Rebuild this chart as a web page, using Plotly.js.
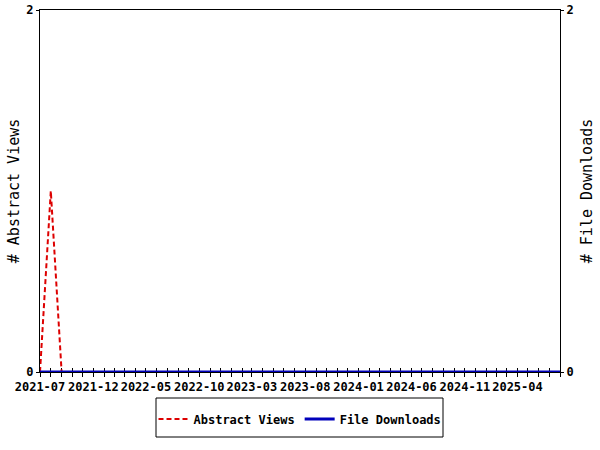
<!DOCTYPE html>
<html>
<head>
<meta charset="utf-8">
<script src="https://cdn.plot.ly/plotly-3.0.1.min.js"></script>
<style>html,body{margin:0;padding:0;background:#fff;}#chart{width:600px;height:450px;}</style>
</head>
<body>
<div id="chart"></div>
<script>
// Monthly categories 2021-07 .. 2025-08
const months = [
 "2021-07","2021-08","2021-09","2021-10","2021-11","2021-12",
 "2022-01","2022-02","2022-03","2022-04","2022-05","2022-06","2022-07","2022-08","2022-09","2022-10","2022-11","2022-12",
 "2023-01","2023-02","2023-03","2023-04","2023-05","2023-06","2023-07","2023-08","2023-09","2023-10","2023-11","2023-12",
 "2024-01","2024-02","2024-03","2024-04","2024-05","2024-06","2024-07","2024-08","2024-09","2024-10","2024-11","2024-12",
 "2025-01","2025-02","2025-03","2025-04","2025-05","2025-06","2025-07","2025-08"
];
const abstractViews = [0,1,0,0,0,0, 0,0,0,0,0,0,0,0,0,0,0,0, 0,0,0,0,0,0,0,0,0,0,0,0, 0,0,0,0,0,0,0,0,0,0,0,0, 0,0,0,0,0,0,0,0];
const fileDownloads = [0,0,0,0,0,0, 0,0,0,0,0,0,0,0,0,0,0,0, 0,0,0,0,0,0,0,0,0,0,0,0, 0,0,0,0,0,0,0,0,0,0,0,0, 0,0,0,0,0,0,0,0];
const tickLabels = ["2021-07","2021-12","2022-05","2022-10","2023-03","2023-08","2024-01","2024-06","2024-11","2025-04"];

const xs = months.map(m => m + "-01");
const tickVals = tickLabels.map(m => m + "-01");
const mono = "DejaVu Sans Mono, monospace";

const traces = [
  {x: xs, y: abstractViews, name: "Abstract Views", type: "scatter", mode: "lines",
   line: {color: "#dd0000", width: 2, dash: "5px,3px"}, xaxis: "x", yaxis: "y"},
  {x: xs, y: fileDownloads, name: "File Downloads", type: "scatter", mode: "lines",
   line: {color: "#0000bb", width: 3}, xaxis: "x", yaxis: "y2"}
];

const layout = {
  width: 600, height: 450,
  margin: {l: 40, r: 40, t: 10, b: 78},
  paper_bgcolor: "#fff", plot_bgcolor: "#fff",
  font: {family: mono, color: "#000", size: 12},
  showlegend: true,
  legend: {orientation: "h", x: 0.5, xanchor: "center", y: -0.09, yanchor: "top",
    borderwidth: 0, bgcolor: "rgba(0,0,0,0)", font: {family: mono, size: 12, weight: "bold"},
    itemwidth: 30},
  shapes: [{type: "rect", xref: "paper", yref: "paper",
    x0: 116/520, x1: 403/520, y0: -65/362, y1: -26/362,
    line: {color: "#000", width: 1}, fillcolor: "rgba(0,0,0,0)"}],
  xaxis: {
    type: "date", range: [xs[0], xs[xs.length - 1]],
    tickvals: tickVals, ticktext: tickLabels,
    ticks: "outside", ticklen: 4, tickcolor: "#000",
    minor: {dtick: "M1", tick0: xs[0], ticks: "outside", ticklen: 4, tickcolor: "#000"},
    showgrid: false, zeroline: false, showline: true, linecolor: "#000", linewidth: 1,
    mirror: true, layer: "below traces",
    tickfont: {family: mono, size: 12, weight: "bold"}
  },
  xaxis2: {
    type: "date", overlaying: "x", matches: "x", range: [xs[0], xs[xs.length - 1]],
    tickvals: tickVals, ticktext: tickLabels.map(() => ""),
    ticks: "inside", ticklen: 4, tickcolor: "#000", showticklabels: false,
    minor: {dtick: "M1", tick0: xs[0], ticks: "inside", ticklen: 4, tickcolor: "#000"},
    showgrid: false, zeroline: false, showline: false, side: "bottom", anchor: "y",
    layer: "below traces"
  },
  yaxis: {
    range: [0, 2], tickvals: [0, 2], ticktext: ["0", "2"],
    ticks: "outside", ticklen: 3, tickcolor: "#000",
    showgrid: false, zeroline: false, showline: true, linecolor: "#000", linewidth: 1,
    layer: "below traces",
    tickfont: {family: mono, size: 12, weight: "bold"},
    title: {text: "# Abstract Views", font: {family: mono, size: 15}, standoff: 3}
  },
  yaxis2: {
    range: [0, 2], tickvals: [0, 2], ticktext: ["0", "2"], overlaying: "y", side: "right",
    ticks: "outside", ticklen: 3, tickcolor: "#000",
    showgrid: false, zeroline: false, showline: true, linecolor: "#000", linewidth: 1,
    layer: "below traces",
    tickfont: {family: mono, size: 12, weight: "bold"},
    title: {text: "# File Downloads", font: {family: mono, size: 15}, standoff: 8}
  }
};

// invisible trace to activate xaxis2 ticks
traces.push({x: [xs[0]], y: [0], xaxis: "x2", yaxis: "y", type: "scatter", mode: "markers",
  marker: {opacity: 0}, showlegend: false, hoverinfo: "skip"});

Plotly.newPlot("chart", traces, layout, {displayModeBar: false, staticPlot: true});
</script>
</body>
</html>
